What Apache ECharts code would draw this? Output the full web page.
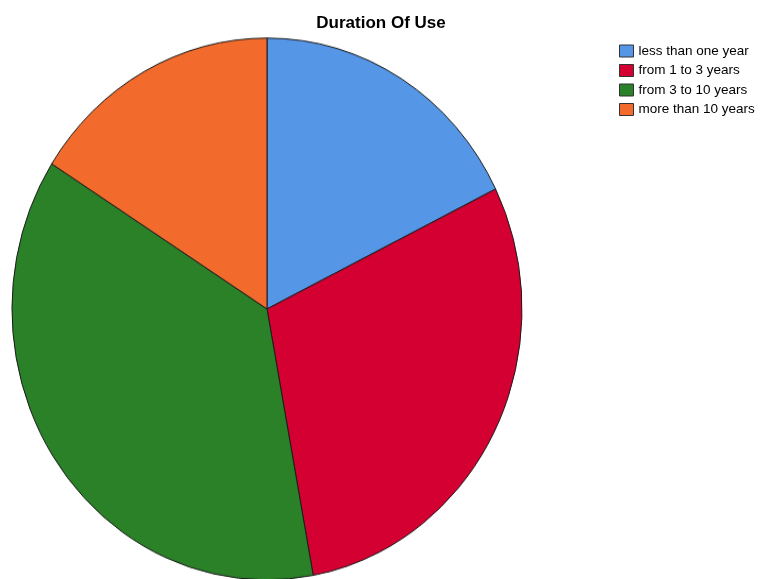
<!DOCTYPE html>
<html>
<head>
<meta charset="utf-8">
<script src="https://cdn.jsdelivr.net/npm/echarts@6/dist/echarts.min.js"></script>
<style>
html,body{margin:0;padding:0;background:#fff;overflow:hidden;width:762px;height:579px;}
#pie{position:absolute;left:0;top:0;width:762px;height:545px;transform:scaleY(1.0624);transform-origin:0 0;}
#over{position:absolute;left:0;top:0;width:762px;height:579px;}
</style>
</head>
<body>
<div id="pie"></div>
<div id="over"></div>
<script>
var titleText = "Duration Of Use";
var categories = ["less than one year", "from 1 to 3 years", "from 3 to 10 years", "more than 10 years"];
var values = [17.7, 29.4, 36.9, 16.0];
var colors = ["#5596E6", "#D50032", "#2A8128", "#F26B2C"];

var data = categories.map(function (c, i) {
  return { name: c, value: values[i], itemStyle: { color: colors[i] } };
});

var pie = echarts.init(document.getElementById('pie'), null, { renderer: 'canvas' });
pie.setOption({
  animation: false,
  backgroundColor: 'transparent',
  series: [{
    type: 'pie',
    center: [267, 290.8],
    radius: [0, 255],
    startAngle: 90,
    clockwise: true,
    label: { show: false },
    labelLine: { show: false },
    emphasis: { disabled: true },
    itemStyle: { borderColor: '#1a1a1a', borderWidth: 1 },
    data: data
  }]
});

var over = echarts.init(document.getElementById('over'), null, { renderer: 'canvas' });
over.setOption({
  animation: false,
  backgroundColor: 'transparent',
  title: {
    text: titleText,
    left: 'center',
    top: 10,
    textStyle: { fontFamily: 'Liberation Sans, Arial, sans-serif', fontSize: 17, fontWeight: 'bold', color: '#000' }
  },
  legend: {
    orient: 'vertical',
    left: 619,
    top: 44,
    padding: 0,
    itemWidth: 14,
    itemHeight: 12,
    itemGap: 5.5,
    icon: 'rect',
    selectedMode: false,
    itemStyle: { borderColor: '#333', borderWidth: 1 },
    textStyle: { fontFamily: 'Liberation Sans, Arial, sans-serif', fontSize: 13.5, color: '#000' },
    data: categories
  },
  series: [{
    type: 'pie',
    center: [267, 309],
    radius: [0, 0],
    silent: true,
    label: { show: false },
    labelLine: { show: false },
    data: data
  }]
});
</script>
</body>
</html>
